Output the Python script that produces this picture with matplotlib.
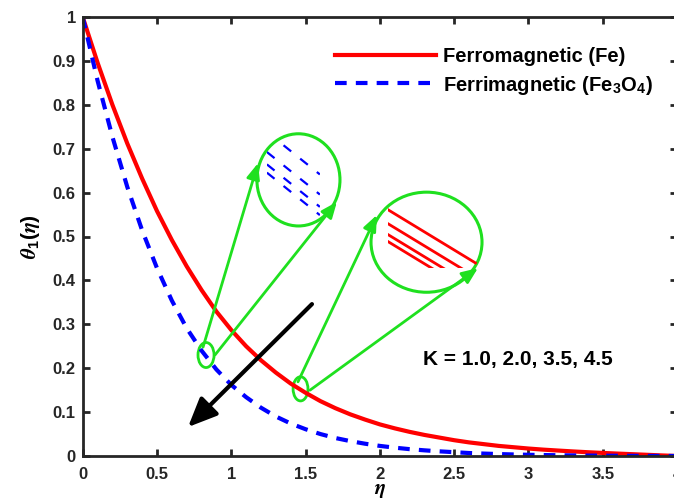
import numpy as np
import matplotlib.pyplot as plt
from matplotlib.patches import Ellipse

plt.rcParams['font.family'] = ['Liberation Sans', 'DejaVu Sans']
plt.rcParams['font.weight'] = 'bold'
plt.rcParams['mathtext.fontset'] = 'custom'
plt.rcParams['mathtext.rm'] = 'Liberation Sans:bold'
plt.rcParams['mathtext.it'] = 'STIXGeneral:italic:bold'
plt.rcParams['mathtext.bf'] = 'Liberation Sans:bold'

# similarity variable and temperature profiles
eta = np.linspace(0, 4, 41)
theta_fe = [1.000, 0.896, 0.800, 0.712, 0.632, 0.558, 0.492, 0.432, 0.378, 0.329,
            0.287, 0.250, 0.218, 0.190, 0.165, 0.144, 0.125, 0.109, 0.095, 0.083,
            0.072, 0.063, 0.055, 0.048, 0.042, 0.036, 0.031, 0.027, 0.023, 0.020,
            0.017, 0.0145, 0.0124, 0.0104, 0.0086, 0.0070, 0.0055, 0.0041, 0.0027, 0.0013,
            0.0]
theta_fe3o4 = [1.000, 0.855, 0.727, 0.613, 0.514, 0.428, 0.354, 0.291, 0.240, 0.197,
               0.162, 0.134, 0.110, 0.090, 0.074, 0.061, 0.050, 0.041, 0.034, 0.028,
               0.023, 0.019, 0.0156, 0.0129, 0.0106, 0.0087, 0.0068, 0.0055, 0.0044, 0.0035,
               0.0028, 0.0022, 0.0017, 0.0013, 0.0010, 0.0007, 0.0005, 0.0003, 0.0002, 0.0001,
               0.0]

# zoomed pieces of the four K curves
k_values = ['1.0', '2.0', '3.5', '4.5']
zoom_fe_eta = [1.45, 1.49]
zoom_fe_theta = [[0.1575, 0.1499], [0.1557, 0.1481], [0.1543, 0.1467], [0.1534, 0.1458]]
zoom_fe3o4_eta = [0.81, 0.85]
zoom_fe3o4_theta = [[0.2473, 0.2308], [0.2395, 0.2230], [0.2347, 0.2182], [0.2315, 0.2150]]

xticks = [0, 0.5, 1, 1.5, 2, 2.5, 3, 3.5, 4]
xticklabels = ['0', '0.5', '1', '1.5', '2', '2.5', '3', '3.5', '4']
yticks = [0, 0.1, 0.2, 0.3, 0.4, 0.5, 0.6, 0.7, 0.8, 0.9, 1]
yticklabels = ['0', '0.1', '0.2', '0.3', '0.4', '0.5', '0.6', '0.7', '0.8', '0.9', '1']

axis_col = (0.15, 0.15, 0.15)
green = '#1fe01f'

fig = plt.figure(figsize=(6.74, 5), dpi=100)
ax = fig.add_axes([0.1227, 0.088, 0.8818, 0.878])

ax.plot(eta, theta_fe, color='red', lw=3, label='Ferromagnetic (Fe)')
ax.plot(eta, theta_fe3o4, color='blue', lw=3, dashes=(2.8, 2.2),
        label='Ferrimagnetic (Fe$_3$O$_4$)')

ax.set_xlim(0, 4)
ax.set_ylim(0, 1)
ax.set_xticks(xticks)
ax.set_xticklabels(xticklabels)
ax.set_yticks(yticks)
ax.set_yticklabels(yticklabels)
ax.tick_params(direction='in', length=5, width=2, colors=axis_col, labelsize=12,
               top=True, right=True)
ax.tick_params(axis='x', pad=8)
ax.tick_params(axis='y', pad=5)
for sp in ax.spines.values():
    sp.set_linewidth(2)
    sp.set_color(axis_col)

ax.set_xlabel(r'$\eta$', math_fontfamily='stix', fontsize=15, labelpad=-0.5)
ax.set_ylabel(r'$\theta_1(\eta)$', fontsize=15, labelpad=8)

leg = ax.legend(loc='upper left', bbox_to_anchor=(0.497, 0.905),
                bbox_transform=fig.transFigure, frameon=False, fontsize=14.5,
                handlelength=5, handletextpad=0.35, labelspacing=0.35,
                borderpad=0, borderaxespad=0)

ax.text(2.29, 0.219, 'K = ' + ', '.join(k_values), fontsize=15, fontweight='bold',
        ha='left', va='center')

# black arrow for increasing K
ax.annotate('', xy=(0.709, 0.066), xytext=(1.543, 0.346),
            arrowprops=dict(arrowstyle='-|>,head_length=0.8,head_width=0.35',
                            color='black', lw=3, mutation_scale=22,
                            shrinkA=0, shrinkB=0))

# magnifier circles
small_fe3o4 = Ellipse((0.830, 0.230), 0.108, 0.057, fill=False, ec=green, lw=2)
small_fe = Ellipse((1.466, 0.153), 0.100, 0.055, fill=False, ec=green, lw=2)
big_fe3o4 = Ellipse((1.452, 0.629), 0.559, 0.210, fill=False, ec=green, lw=2.2)
big_fe = Ellipse((2.314, 0.487), 0.747, 0.228, fill=False, ec=green, lw=2.2)
for e in (small_fe3o4, small_fe, big_fe3o4, big_fe):
    ax.add_patch(e)

green_arrows = [((0.81, 0.248), (1.180, 0.667)),
                ((0.89, 0.230), (1.711, 0.579)),
                ((1.449, 0.169), (1.980, 0.549)),
                ((1.530, 0.150), (2.660, 0.428))]
for tail, head in green_arrows:
    ax.annotate('', xy=head, xytext=tail,
                arrowprops=dict(arrowstyle='-|>,head_length=0.6,head_width=0.25',
                                color=green, lw=2, mutation_scale=16,
                                shrinkA=0, shrinkB=0))

# zoomed views
ins_b = fig.add_axes([0.396, 0.544, 0.0786, 0.206])
for vals in zoom_fe3o4_theta:
    ln, = ins_b.plot(zoom_fe3o4_eta, vals, color='blue', lw=1.6, dashes=(4.4, 5.2))
    ln.set_clip_path(big_fe3o4)
ins_b.set_xlim(0.81, 0.85)
ins_b.set_ylim(0.210, 0.250)
ins_b.axis('off')

ins_r = fig.add_axes([0.5757, 0.464, 0.144, 0.146])
for vals in zoom_fe_theta:
    ln, = ins_r.plot(zoom_fe_eta, vals, color='red', lw=2)
    ln.set_clip_path(big_fe)
ins_r.set_xlim(1.45, 1.49)
ins_r.set_ylim(0.150, 0.1594)
ins_r.axis('off')

fig.savefig('out.png', dpi=100)
